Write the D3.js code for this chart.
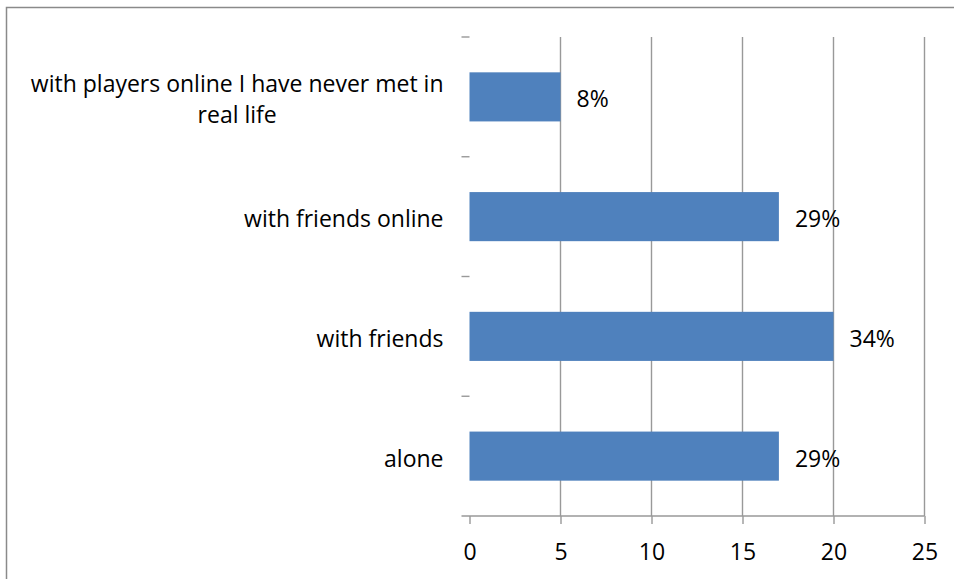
<!DOCTYPE html>
<html>
<head>
<meta charset="utf-8">
<script src="https://cdn.jsdelivr.net/npm/d3@7"></script>
<style>
  body { margin: 0; background: #fff; }
  svg { display: block; font-family: "Open Sans", Lato, sans-serif; }
</style>
</head>
<body>
<svg width="954" height="579"></svg>
<script>
// data (top to bottom as drawn)
var categories = ["with players online I have never met in|real life", "with friends online", "with friends", "alone"];
var values = [5, 17, 20, 17];
var valueLabels = ["8%", "29%", "34%", "29%"];
var xTicks = [0, 5, 10, 15, 20, 25];

var svg = d3.select("svg");
var margin = { top: 37, bottom: 63, left: 469.5, right: 29.5 };
var width = 954, height = 579;
var gridColor = "#999999";
var fontSize = 23;

// outer chart border (runs off the page right and bottom)
svg.append("rect")
    .attr("x", 6.5).attr("y", 7.5)
    .attr("width", 1000).attr("height", 700)
    .attr("fill", "none")
    .attr("stroke", "#8a8a8a")
    .attr("stroke-width", 1.5);

var x = d3.scaleLinear()
    .domain([0, 25])
    .range([margin.left, width - margin.right]);

var y = d3.scaleBand()
    .domain(categories)
    .range([margin.top, height - margin.bottom])
    .padding(0);

var barFrac = 0.41; // share of each band the bar takes

// vertical gridlines
svg.append("g").selectAll("line")
    .data(xTicks.filter(d => d > 0))
    .enter().append("line")
    .attr("x1", d => x(d)).attr("x2", d => x(d))
    .attr("y1", margin.top).attr("y2", height - margin.bottom)
    .attr("stroke", gridColor)
    .attr("stroke-width", 1.4);

// bars
svg.append("g").selectAll("rect")
    .data(values)
    .enter().append("rect")
    .attr("x", x(0))
    .attr("y", (d, i) => y(categories[i]) + y.bandwidth() * (1 - barFrac) / 2)
    .attr("width", d => x(d) - x(0))
    .attr("height", y.bandwidth() * barFrac)
    .attr("fill", "#4F81BD");

// value labels
svg.append("g").selectAll("text")
    .data(values)
    .enter().append("text")
    .attr("x", d => x(d) + 16)
    .attr("y", (d, i) => y(categories[i]) + y.bandwidth() / 2)
    .attr("dy", "0.46em")
    .attr("font-size", fontSize)
    .text((d, i) => valueLabels[i]);

// category ticks on the left (band boundaries)
svg.append("g").selectAll("line")
    .data(categories)
    .enter().append("line")
    .attr("x1", margin.left - 8).attr("x2", margin.left)
    .attr("y1", d => y(d)).attr("y2", d => y(d))
    .attr("stroke", gridColor)
    .attr("stroke-width", 1.4);

// category labels, right aligned block, lines centred in it
categories.forEach(function (c) {
    var lines = c.split("|");
    var lh = 31;
    var cy = y(c) + y.bandwidth() / 2 - (lines.length - 1) * lh / 2;
    var g = svg.append("g");
    var t = g.append("text")
        .attr("font-size", fontSize)
        .attr("text-anchor", "middle");
    lines.forEach(function (l, k) {
        t.append("tspan").attr("x", 0).attr("y", cy + k * lh).attr("dy", "0.46em").text(l);
    });
    var w = t.node().getBBox().width;
    g.attr("transform", "translate(" + (margin.left - 26 - w / 2) + ",0)");
});

// x axis
var xAxis = d3.axisBottom(x)
    .tickValues(xTicks)
    .tickSize(8)
    .tickSizeOuter(0);

var ax = svg.append("g")
    .attr("transform", "translate(0," + (height - margin.bottom) + ")")
    .call(xAxis);
ax.select(".domain").remove();
ax.selectAll(".tick line").attr("stroke", gridColor).attr("stroke-width", 1.4);
ax.selectAll(".tick text")
    .attr("font-family", "'Open Sans', Lato, sans-serif")
    .attr("font-size", fontSize)
    .attr("fill", "#000")
    .attr("y", 36)
    .attr("dy", "0.35em");
ax.append("line")
    .attr("x1", margin.left - 8).attr("x2", x(25))
    .attr("y1", 0).attr("y2", 0)
    .attr("stroke", gridColor)
    .attr("stroke-width", 1.4);
</script>
</body>
</html>
